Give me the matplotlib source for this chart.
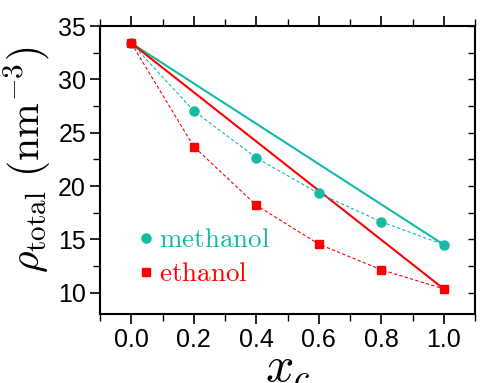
import matplotlib
matplotlib.use("Agg")
import matplotlib.pyplot as plt
from matplotlib.ticker import MultipleLocator, FormatStrFormatter
from matplotlib.lines import Line2D

plt.rcParams['mathtext.fontset'] = 'cm'
plt.rcParams['font.family'] = ['Liberation Sans', 'DejaVu Sans']

x = [0.0, 0.2, 0.4, 0.6, 0.8, 1.0]
methanol = [33.4, 27.05, 22.65, 19.3, 16.65, 14.5]
ethanol = [33.4, 23.7, 18.2, 14.55, 12.15, 10.35]
teal = '#13BAA6'
red = '#FF0000'

fig = plt.figure(figsize=(4.81, 3.83), dpi=100)
ax = fig.add_axes([100/481, 1-314/383, 375/481, (314-26)/383])

# ideal (linear) mixing lines
ax.plot([x[0], x[-1]], [methanol[0], methanol[-1]], color=teal, lw=1.5, zorder=2)
ax.plot([x[0], x[-1]], [ethanol[0], ethanol[-1]], color=red, lw=1.5, zorder=2)
# data
ax.plot(x, methanol, ls=(0, (3, 2)), lw=0.8, color=teal, marker='o', ms=6.5, zorder=3)
ax.plot(x, ethanol, ls=(0, (3, 2)), lw=0.8, color=red, marker='s', ms=6, zorder=3)

ax.set_xlim(-0.1, 1.1)
ax.set_ylim(8, 35)
ax.xaxis.set_major_locator(MultipleLocator(0.2))
ax.xaxis.set_minor_locator(MultipleLocator(0.1))
ax.yaxis.set_major_locator(MultipleLocator(5))
ax.yaxis.set_minor_locator(MultipleLocator(2.5))
ax.tick_params(axis='x', which='both', direction='out', top=True, bottom=True, labelsize=18)
ax.tick_params(axis='y', which='both', direction='out', left=True, right=False, labelsize=18)
ax.tick_params(which='major', length=7, width=1.2, pad=3)
ax.tick_params(which='minor', length=5, width=1.0)
ax.xaxis.set_major_formatter(FormatStrFormatter('%.1f'))
for s in ax.spines.values():
    s.set_linewidth(1.5)

# right-side ticks pointing inward
ax2 = ax.twinx()
ax2.set_ylim(ax.get_ylim())
ax2.yaxis.set_major_locator(MultipleLocator(5))
ax2.yaxis.set_minor_locator(MultipleLocator(2.5))
ax2.tick_params(axis='y', which='both', direction='in', right=True, labelright=False, length=5, width=1.0)
for s in ax2.spines.values():
    s.set_visible(False)

ax.set_ylabel(r'$\rho_{\mathrm{total}}\ (\mathrm{nm}^{-3})$', fontsize=30)
ax.yaxis.set_label_coords(-0.125, 0.535)
ax.set_xlabel(r'$x_c$', fontsize=36, labelpad=-5)

handles = [Line2D([], [], ls='none', marker='o', color=teal, ms=6.5),
           Line2D([], [], ls='none', marker='s', color=red, ms=6)]
leg = ax.legend(handles, [r'$\mathrm{methanol}$', r'$\mathrm{ethanol}$'],
                loc='lower left', bbox_to_anchor=(0.039, 0.008), frameon=False,
                fontsize=19.5, handlelength=0.5, handletextpad=0.25, labelspacing=0.3,
                labelcolor=[teal, red])

fig.savefig('out.png', dpi=100)
